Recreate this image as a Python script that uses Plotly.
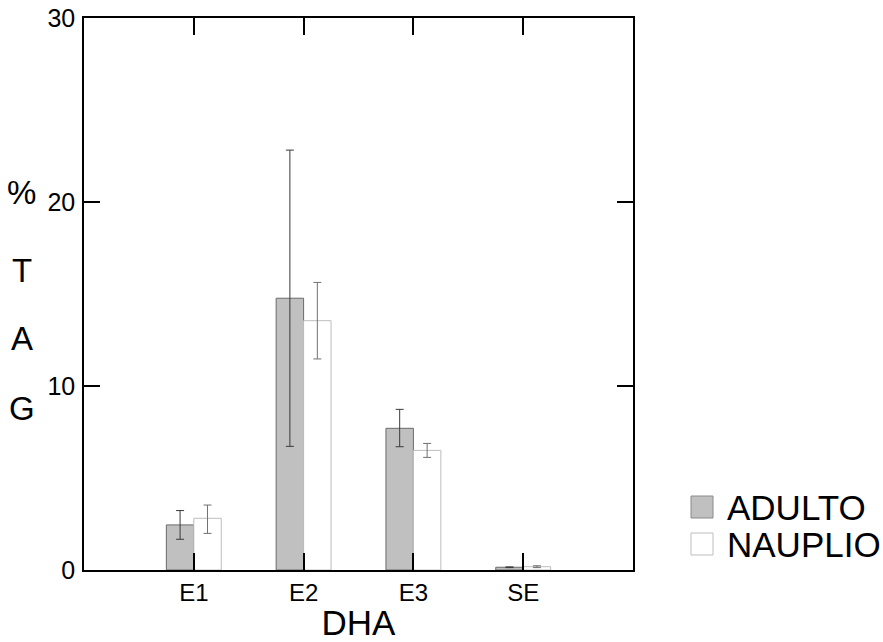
import plotly.graph_objects as go

categories = ["E1", "E2", "E3", "SE"]
adulto = [2.45, 14.77, 7.70, 0.15]
adulto_err_plus = [0.78, 8.05, 1.03, 0.02]
adulto_err_minus = [0.78, 8.05, 1.0, 0.02]
nauplio = [2.81, 13.55, 6.50, 0.18]
nauplio_err_plus = [0.72, 2.08, 0.38, 0.05]
nauplio_err_minus = [0.82, 2.08, 0.38, 0.05]
y_ticks = [0, 10, 20, 30]
y_title_letters = ["%", "T", "A", "G"]

FONT = "Liberation Sans, Arial, sans-serif"

fig = go.Figure()
fig.add_trace(go.Bar(
    x=categories, y=adulto, name="ADULTO",
    marker=dict(color="#c0c0c0", line=dict(color="#6a6a6a", width=1)),
    error_y=dict(type="data", symmetric=False, array=adulto_err_plus,
                 arrayminus=adulto_err_minus, color="#3a3a3a", thickness=1, width=4),
    showlegend=False,
))
fig.add_trace(go.Bar(
    x=categories, y=nauplio, name="NAUPLIO",
    marker=dict(color="#ffffff", line=dict(color="#bdbdbd", width=1)),
    error_y=dict(type="data", symmetric=False, array=nauplio_err_plus,
                 arrayminus=nauplio_err_minus, color="#707070", thickness=1, width=4),
    showlegend=False,
))

fig.update_layout(
    width=883, height=642,
    margin=dict(l=84, r=250, t=18, b=72, autoexpand=False),
    paper_bgcolor="white", plot_bgcolor="white",
    barmode="group", bargap=0.5, bargroupgap=0,
    font=dict(family=FONT, color="black"),
    xaxis=dict(
        range=[-1, 4], showline=True, linecolor="black", linewidth=1.5, mirror="ticks",
        ticks="inside", ticklen=17, tickcolor="black", tickwidth=1.5,
        tickfont=dict(size=24), showgrid=False, zeroline=False, automargin=False,
        title=dict(text="DHA", font=dict(size=35), standoff=6),
    ),
    yaxis=dict(
        range=[0, 30], tickvals=y_ticks, showline=True, linecolor="black", linewidth=1.5,
        mirror="ticks", ticks="inside", ticklen=16, tickcolor="black", tickwidth=1.5,
        tickfont=dict(size=25), showgrid=False, zeroline=False, ticklabelstandoff=2,
        automargin=False,
    ),
)

# Y title as stacked letters
letter_y = [20.5, 16.3, 12.6, 8.8]
for letter, yv in zip(y_title_letters, letter_y):
    fig.add_annotation(text=letter, xref="paper", yref="y", x=-0.113, y=yv,
                       showarrow=False, xanchor="center", yanchor="middle",
                       font=dict(size=33, family=FONT))

# Manual legend
def px_x(p):
    return (p - 84) / 549.0

def px_y(p):
    return (570 - p) / 552.0

legend_items = [("ADULTO", "#c0c0c0", "#8a8a8a", 507), ("NAUPLIO", "#ffffff", "#bdbdbd", 544)]
for name, fill, line, cy in legend_items:
    fig.add_shape(type="rect", xref="paper", yref="paper",
                  x0=px_x(691), x1=px_x(713), y0=px_y(cy + 11), y1=px_y(cy - 11),
                  fillcolor=fill, line=dict(color=line, width=1))
    fig.add_annotation(text=name, xref="paper", yref="paper", x=px_x(725), y=px_y(cy),
                       showarrow=False, xanchor="left", yanchor="middle",
                       font=dict(size=35, family=FONT))

fig.write_html("out.html")
